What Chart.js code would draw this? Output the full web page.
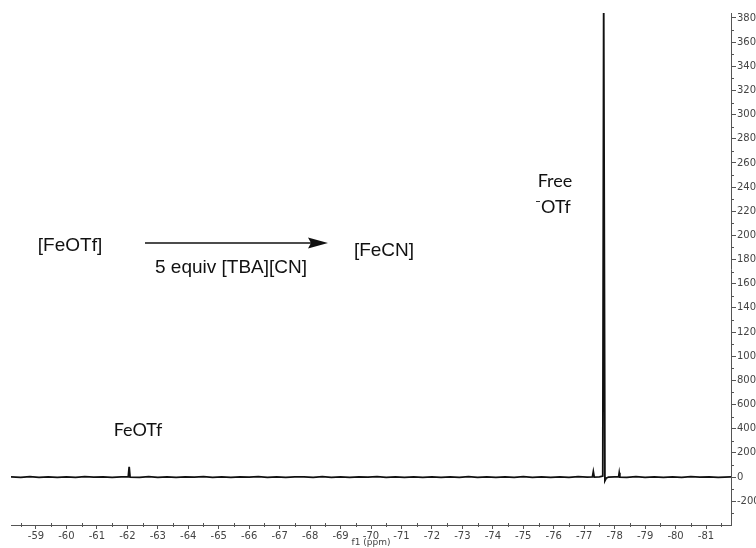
<!DOCTYPE html>
<html><head><meta charset="utf-8">
<script src="https://cdn.jsdelivr.net/npm/chart.js@4/dist/chart.umd.min.js"></script>
<style>html,body{margin:0;padding:0;background:#fff}#wrap{width:756px;height:548px}</style>
</head><body><div id="wrap"><canvas id="c" width="756" height="548"></canvas></div>
<script>
// chemical shift (ppm) and intensity
const shiftPpm = [
  -58.18, -58.5, -58.8, -59.1, -59.4, -59.7, -60.0, -60.3, -60.6, -60.9,
  -61.2, -61.5, -61.8, -62.03, -62.06, -62.09, -62.4, -62.7, -63.0, -63.3,
  -63.6, -63.9, -64.2, -64.5, -64.8, -65.1, -65.4, -65.7, -66.0, -66.3,
  -66.6, -66.9, -67.2, -67.5, -67.8, -68.1, -68.4, -68.7, -69.0, -69.3,
  -69.6, -69.9, -70.2, -70.5, -70.8, -71.1, -71.4, -71.7, -72.0, -72.3,
  -72.6, -72.9, -73.2, -73.5, -73.8, -74.1, -74.4, -74.7, -75.0, -75.3,
  -75.6, -75.9, -76.2, -76.5, -76.8, -77.1, -77.27, -77.30, -77.33, -77.5,
  -77.61, -77.64, -77.68, -77.72, -77.8, -78.0, -78.13, -78.15, -78.17, -78.4,
  -78.7, -79.0, -79.3, -79.6, -79.9, -80.2, -80.5, -80.8, -81.1, -81.4, -81.82
];
const intensity = [
  1, -2, 3, -2, 2, -3, 1, -2, 3, -1,
  2, -3, 2, 1, 85, 0, -2, 3, -2, 2,
  -3, 2, -1, 3, -2, 2, -3, 2, -1, 3,
  -2, 2, -3, 1, 2, -2, 3, -2, 2, -3,
  2, -1, 3, -2, 2, -3, 2, -2, 1, -3,
  2, -2, 3, -2, 1, -3, 2, -2, 3, -2,
  2, -3, 2, -2, 3, -1, 1, 45, 0, 2,
  8, 3950, -30, -10, 0, 2, 1, 35, 0, -2,
  3, -2, 2, -3, 2, -2, 3, -1, 2, -3, 1
];
const xTickLabels = [-59,-60,-61,-62,-63,-64,-65,-66,-67,-68,-69,-70,-71,-72,-73,-74,-75,-76,-77,-78,-79,-80,-81];
const yTickLabels = [-200,0,200,400,600,800,1000,1200,1400,1600,1800,2000,2200,2400,2600,2800,3000,3200,3400,3600,3800];

const X_LEFT = -58.18, X_RIGHT = -81.82;
const Y_MIN = -397, Y_MAX = 3841;

const points = shiftPpm.map((x, i) => ({x: x, y: intensity[i]}));
const AXIS = '#555';
const TICKFONT = {family: "'DejaVu Sans', Verdana, sans-serif", size: 10};

const decor = {
  id: 'decor',
  afterDraw(chart) {
    const ctx = chart.ctx;
    const xs = chart.scales.x, ys = chart.scales.y;
    const ca = chart.chartArea;
    ctx.save();
    ctx.strokeStyle = AXIS;
    ctx.lineWidth = 1;
    ctx.beginPath();
    for (let k = 0; k < xTickLabels.length + 1; k++) {
      const v = -58.5 - k;
      if (v < X_RIGHT) break;
      const px = Math.round(xs.getPixelForValue(v)) + 0.5;
      ctx.moveTo(px, ca.bottom - 2); ctx.lineTo(px, ca.bottom + 2);
    }
    for (let k = 0; k < yTickLabels.length + 1; k++) {
      const v = -300 + 200 * k;
      if (v > Y_MAX) break;
      const py = Math.round(ys.getPixelForValue(v)) + 0.5;
      ctx.moveTo(ca.right, py); ctx.lineTo(ca.right + 3, py);
    }
    ctx.stroke();

    ctx.fillStyle = '#111';
    ctx.textAlign = 'center';
    ctx.textBaseline = 'middle';
    ctx.font = "19px 'Liberation Sans', Arial, sans-serif";
    ctx.fillText('[FeOTf]', 70, 246);
    ctx.fillText('[FeCN]', 384, 251);
    ctx.fillText('5 equiv [TBA][CN]', 231, 268);
    ctx.strokeStyle = '#111';
    ctx.lineWidth = 1.6;
    ctx.beginPath();
    ctx.moveTo(145, 243); ctx.lineTo(318, 243);
    ctx.stroke();
    ctx.beginPath();
    ctx.moveTo(328, 243); ctx.lineTo(308, 237.5); ctx.lineTo(311, 243); ctx.lineTo(308, 248.5);
    ctx.closePath(); ctx.fill();

    ctx.font = "18px Lato, 'Open Sans', sans-serif";
    ctx.fillText('Free', 555, 181);
    ctx.fillText('\u207BOTf', 553, 207);
    ctx.fillText('FeOTf', 138, 430);
    ctx.restore();
  }
};

new Chart(document.getElementById('c'), {
  type: 'line',
  data: {
    datasets: [{
      data: points,
      borderColor: '#111',
      borderWidth: 1.8,
      pointRadius: 0,
      tension: 0,
      fill: false
    }]
  },
  options: {
    responsive: false,
    animation: false,
    devicePixelRatio: 1,
    layout: {padding: {left: 11, top: 13, right: 0, bottom: 0}},
    plugins: {legend: {display: false}, tooltip: {enabled: false}},
    scales: {
      x: {
        type: 'linear',
        reverse: true,
        min: X_RIGHT,
        max: X_LEFT,
        position: 'bottom',
        afterBuildTicks: s => { s.ticks = xTickLabels.map(v => ({value: v})); },
        afterFit: s => { s.height = 23; },
        grid: {drawOnChartArea: false, drawTicks: true, tickLength: 4, color: AXIS},
        border: {display: true, color: AXIS, width: 1},
        ticks: {font: TICKFONT, color: '#444', padding: 1, maxRotation: 0, autoSkip: false,
                callback: v => String(v)},
        title: {display: true, text: 'f1 (ppm)', font: {family: TICKFONT.family, size: 9}, color: '#444', padding: {top: 0, bottom: 0}}
      },
      y: {
        type: 'linear',
        position: 'right',
        min: Y_MIN,
        max: Y_MAX,
        afterBuildTicks: s => { s.ticks = yTickLabels.map(v => ({value: v})); },
        afterFit: s => { s.width = 25; },
        grid: {drawOnChartArea: false, drawTicks: true, tickLength: 5, color: AXIS},
        border: {display: true, color: AXIS, width: 1},
        ticks: {font: TICKFONT, color: '#444', padding: 1, autoSkip: false, callback: v => String(v)}
      }
    }
  },
  plugins: [decor]
});
</script>
</body></html>
